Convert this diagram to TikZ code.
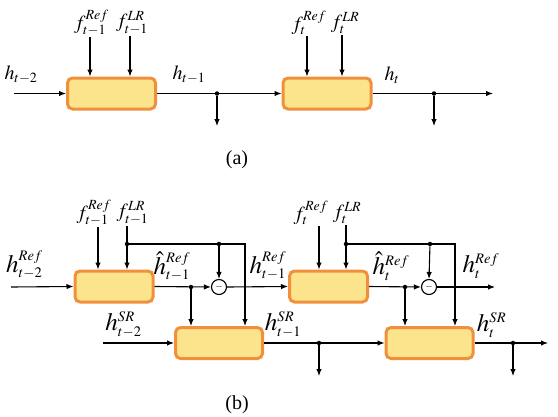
\documentclass[tikz,border=0pt]{standalone}
\usepackage{amsmath}
\usepackage{mathptmx}
\usepackage[no-math]{fontspec}
\setmainfont{Liberation Serif}
\usepackage{xcolor}
\usetikzlibrary{arrows.meta,positioning,calc}
\DeclareMathSizes{20}{20}{14}{10}
\DeclareMathSizes{25}{25}{14.5}{10}
\definecolor{celfill}{HTML}{FCE48C}
\definecolor{celedge}{HTML}{F0903C}
\tikzset{
  cell/.style ={draw=celedge, fill=celfill, line width=3pt, rounded corners=5pt,
                minimum width=88pt, minimum height=31pt, inner sep=0pt},
  celltop/.style={cell, minimum width=78pt},
  cellbot/.style={cell, minimum width=87pt},
  ar/.style   ={-{Latex[length=7pt,width=5.5pt]}, line width=1.1pt},
  jn/.style   ={circle, fill=black, inner sep=0pt, minimum size=4.5pt},
  diffc/.style={circle, draw, line width=1.1pt, minimum size=15pt, inner sep=0pt},
  lbl/.style  ={font=\fontsize{20}{22}\selectfont, inner sep=1pt},
  lbh/.style  ={font=\fontsize{25}{27}\selectfont, inner sep=1pt},
}

\begin{document}
\begin{tikzpicture}[x=1pt,y=-1pt]
\useasboundingbox (0,0) rectangle (558,416);
% (a) plain recurrence
\node[cell] (a1) at (111.5,93.5) {};
\node[cell] (a2) at (327,93.5) {};
\coordinate (ain) at (14,93.5);
\coordinate (aout) at (493,93.5);
\node[jn] (ja1) at (217,93.5) {};
\node[jn] (ja2) at (434,93.5) {};
\coordinate (da1) at (217,126);
\coordinate (da2) at (434,126);
\node[lbl] (fra1) at (91.5,23) {$f^{Ref}_{t-1}$};
\node[lbl] (fla1) at (132,23) {$f^{LR}_{t-1}$};
\node[lbl] (fra2) at (309,23) {$f^{Ref}_{t}$};
\node[lbl] (fla2) at (345,23) {$f^{LR}_{t}$};
\draw[ar] (fra1.south -| 90,0) -- (90,0 |- a1.north);
\draw[ar] (fla1.south -| 130,0) -- (130,0 |- a1.north);
\draw[ar] (fra2.south -| 307,0) -- (307,0 |- a2.north);
\draw[ar] (fla2.south -| 342,0) -- (342,0 |- a2.north);
\draw[ar] (ain) -- (a1.west);
\draw[ar] (a1.east) -- (a2.west);
\draw[ar] (a2.east) -- (aout);
\draw[ar] (ja1) -- (da1);
\draw[ar] (ja2) -- (da2);
\node[lbl] (ha0) at (21,75) {$h_{t-2}$};
\node[lbl] (ha1) at (189,75) {$h_{t-1}$};
\node[lbl] (ha2) at (392,75) {$h_{t}$};
\node[font=\fontsize{20}{22}\selectfont] (capa) at (237,160) {(a)};
% (b) reference branch on top, SR branch below
\node[celltop] (r1) at (114,286.5) {};
\node[celltop] (r2) at (328.5,286.5) {};
\node[cellbot] (s1) at (219,343) {};
\node[cellbot] (s2) at (429.5,343) {};
\node[diffc] (m1) at (219,287) {$-$};
\node[diffc] (m2) at (429,287) {$-$};
\coordinate (rin) at (11,287);
\coordinate (rout) at (495,287);
\coordinate (sin) at (103,343);
\coordinate (sout) at (548,343);
\node[lbl] (frb1) at (94,213) {$f^{Ref}_{t-1}$};
\node[lbl] (flb1) at (132.5,213) {$f^{LR}_{t-1}$};
\node[lbl] (frb2) at (311,213) {$f^{Ref}_{t}$};
\node[lbl] (flb2) at (347,213) {$f^{LR}_{t}$};
\node[jn] (jl1) at (127,244) {};
\node[jn] (jm1) at (219,244) {};
\coordinate (cl1) at (245,244);
\node[jn] (jl2) at (346,244) {};
\node[jn] (jm2) at (430,244) {};
\coordinate (cl2) at (455,244);
\node[jn] (jh1) at (191,287) {};
\node[jn] (jh2) at (405,287) {};
\node[jn] (js1) at (319,343) {};
\node[jn] (js2) at (513,343) {};
\coordinate (ds1) at (319,376);
\coordinate (ds2) at (513,376);
\draw[ar] (frb1.south -| 98,0) -- (98,0 |- r1.north);
\draw[ar] (flb1.south -| jl1) -- (jl1 |- r1.north);
\draw[ar] (frb2.south -| 319,0) -- (319,0 |- r2.north);
\draw[ar] (flb2.south -| jl2) -- (jl2 |- r2.north);
\draw[ar] (jl1) -- (cl1) -- (cl1 |- s1.north);
\draw[ar] (jl2) -- (cl2) -- (cl2 |- s2.north);
\draw[ar] (jm1) -- (m1.north);
\draw[ar] (jm2) -- (m2.north);
\draw[ar] (rin) -- (r1.west);
\draw[ar] (r1.east) -- (m1.west);
\draw[ar] (m1.east) -- (r2.west);
\draw[ar] (r2.east) -- (m2.west);
\draw[ar] (m2.east) -- (rout);
\draw[ar] (jh1) -- (jh1 |- s1.north);
\draw[ar] (jh2) -- (jh2 |- s2.north);
\draw[ar] (sin) -- (s1.west);
\draw[ar] (s1.east) -- (s2.west);
\draw[ar] (s2.east) -- (sout);
\draw[ar] (js1) -- (ds1);
\draw[ar] (js2) -- (ds2);
\node[lbh] (hr0) at (24.5,265) {$h^{Ref}_{t-2}$};
\node[lbh] (hr1) at (172,266) {$\hat{h}^{Ref}_{t-1}$};
\node[lbh] (hr2) at (268,266) {$h^{Ref}_{t-1}$};
\node[lbh] (hr3) at (391,266) {$\hat{h}^{Ref}_{t}$};
\node[lbh] (hr4) at (481,266) {$h^{Ref}_{t}$};
\node[lbh] (hs0) at (123.5,325) {$h^{SR}_{t-2}$};
\node[lbh] (hs1) at (283,325) {$h^{SR}_{t-1}$};
\node[lbh] (hs2) at (491.5,325) {$h^{SR}_{t}$};
\node[font=\fontsize{20}{22}\selectfont] (capb) at (237,405) {(b)};
\end{tikzpicture}
\end{document}
